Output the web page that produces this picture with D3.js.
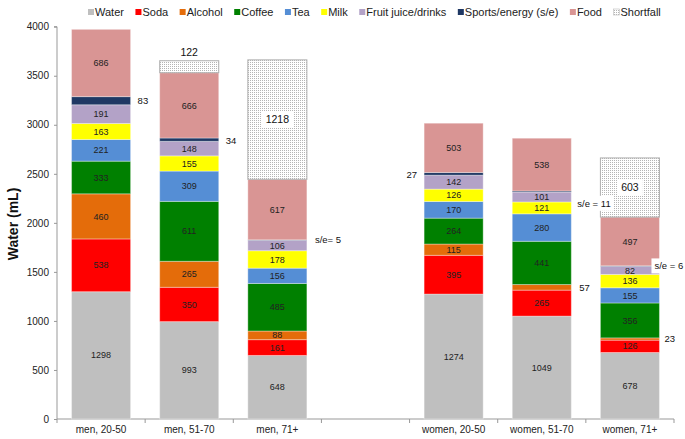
<!DOCTYPE html>
<html><head><meta charset="utf-8">
<script src="https://cdn.jsdelivr.net/npm/d3@7"></script>
<style>body{margin:0;background:#fff}svg{display:block;font-family:"Liberation Sans",Arial,sans-serif}</style>
</head><body><svg id="c" width="685" height="439"></svg>
<script>
const categories = ["men, 20-50","men, 51-70","men, 71+","","women, 20-50","women, 51-70","women, 71+"];
const seriesNames = ["Water","Soda","Alcohol","Coffee","Tea","Milk","Fruit juice/drinks","Sports/energy (s/e)","Food","Shortfall"];
const water      = [1298, 993, 648, null, 1274, 1049, 678];
const soda       = [538, 350, 161, null, 395, 265, 126];
const alcohol    = [460, 265, 88, null, 115, 57, 23];
const coffee     = [333, 611, 485, null, 264, 441, 356];
const tea        = [221, 309, 156, null, 170, 280, 155];
const milk       = [163, 155, 178, null, 126, 121, 136];
const fruitJuice = [191, 148, 106, null, 142, 101, 82];
const sports     = [83, 34, 5, null, 27, 11, 6];
const food       = [686, 666, 617, null, 503, 538, 497];
const shortfall  = [0, 122, 1218, null, 0, 0, 603];
const yTicks = [0,500,1000,1500,2000,2500,3000,3500,4000];

const seriesData = [water,soda,alcohol,coffee,tea,milk,fruitJuice,sports,food,shortfall];
const colors = ["#bfbfbf","#ff0000","#e46c0a","#008000","#558ed5","#ffff00","#b3a2c7","#1f3864","#d99594","url(#dots)"];

const svg = d3.select("#c");
const defs = svg.append("defs");
const pat = defs.append("pattern").attr("id","dots").attr("width",2).attr("height",2).attr("patternUnits","userSpaceOnUse");
pat.append("rect").attr("width",2).attr("height",2).attr("fill","#fff");
pat.append("rect").attr("width",1).attr("height",1).attr("fill","#b5b5b5");

const x = d3.scaleBand().domain(categories).range([57,674]).padding(0);
const y = d3.scaleLinear().domain([0,4000]).range([419,26.7]);
const bw = x.bandwidth()*0.67;

const rows = categories.map((c,i)=>{const o={cat:c}; seriesNames.forEach((s,j)=>o[s]=seriesData[j][i]||0); return o;});
const stack = d3.stack().keys(seriesNames)(rows);

// axes
const yAxis = svg.append("g").attr("transform","translate(57,0)")
  .call(d3.axisLeft(y).tickValues(yTicks).tickFormat(d3.format("d")).tickSize(3).tickPadding(5));
yAxis.select(".domain").attr("stroke","#999").attr("d","M-3,26.7H0V419");
yAxis.selectAll(".tick line").attr("stroke","#999");
yAxis.selectAll(".tick text").attr("font-size",10).attr("fill","#222").attr("font-family","Liberation Sans, Arial");

const xAxis = svg.append("g").attr("transform","translate(0,419)")
  .call(d3.axisBottom(x).tickSize(0).tickPadding(7));
xAxis.select(".domain").attr("stroke","#999").attr("d","M57,0H674");
xAxis.selectAll(".tick text").attr("font-size",10).attr("fill","#222").attr("font-family","Liberation Sans, Arial");
const bounds = categories.map(c=>x(c)).concat([x(categories[categories.length-1])+x.bandwidth()]);
xAxis.selectAll("line.bt").data(bounds).join("line").attr("class","bt")
  .attr("x1",d=>d).attr("x2",d=>d).attr("y1",0).attr("y2",4).attr("stroke","#999");

// bars
stack.forEach((layer,j)=>{
  svg.append("g").selectAll("rect").data(layer.filter(d=>d.data.cat!=="" && d[1]>d[0])).join("rect")
    .attr("x",d=>x(d.data.cat)+(x.bandwidth()-bw)/2)
    .attr("width",bw)
    .attr("y",d=>y(d[1]))
    .attr("height",d=>y(d[0])-y(d[1]))
    .attr("fill",colors[j])
    .attr("stroke", j===9 ? "#b0b0b0" : "rgba(255,255,255,0.35)")
    .attr("stroke-width", 1);
});

// inside labels
stack.forEach((layer,j)=>{
  layer.forEach(d=>{
    const v = d[1]-d[0];
    if(d.data.cat==="" || j===7 || v<60) return;
    if(j===9 && v<300) return;
    const cx = x(d.data.cat)+x.bandwidth()/2, cy = y((d[0]+d[1])/2);
    if(j===9){
      const t = svg.append("text").attr("x",cx).attr("y",cy).attr("dy","0.35em").attr("text-anchor","middle")
        .attr("font-size",10.5).attr("fill","#111").text(v);
      const bb=t.node().getBBox();
      svg.insert("rect",function(){return t.node();}).attr("x",bb.x-4).attr("y",bb.y-2).attr("width",bb.width+8).attr("height",bb.height+4).attr("fill","#fff");
    } else {
      svg.append("text").attr("x",cx).attr("y",cy).attr("dy","0.35em").attr("text-anchor","middle")
        .attr("font-size",9).attr("fill","#222").text(v);
    }
  });
});

// outside annotations (placement in code)
function barL(ci){return x(categories[ci])+(x.bandwidth()-bw)/2;}
function barR(ci){return barL(ci)+bw;}
const ann = [
  {ci:0,sj:7,side:"r",prefix:"",dx:7,dy:0,bg:false},
  {ci:1,sj:7,side:"r",prefix:"",dx:7,dy:1,bg:false},
  {ci:2,sj:7,side:"r",prefix:"s/e= ",dx:8,dy:0,bg:false},
  {ci:4,sj:7,side:"l",prefix:"",dx:-7,dy:1,bg:false},
  {ci:5,sj:7,side:"r",prefix:"s/e = ",dx:6,dy:12,bg:true},
  {ci:5,sj:2,side:"r",prefix:"",dx:8,dy:0,bg:false},
  {ci:6,sj:7,side:"r",prefix:"s/e = ",dx:-5,dy:0,bg:true},
  {ci:6,sj:2,side:"r",prefix:"",dx:5,dy:0,bg:false}
];
ann.forEach(a=>{
  const d=stack[a.sj][a.ci]; const v=d[1]-d[0];
  const xx = a.side==="r" ? barR(a.ci)+a.dx : barL(a.ci)+a.dx;
  const t = svg.append("text").attr("x",xx).attr("y",y((d[0]+d[1])/2)+a.dy).attr("dy","0.35em")
    .attr("text-anchor",a.side==="r"?"start":"end").attr("font-size",9.5).attr("fill","#111").text(a.prefix+v);
  if(a.bg){const bb=t.node().getBBox();
    svg.insert("rect",function(){return t.node();}).attr("x",bb.x-3).attr("y",bb.y-2).attr("width",bb.width+6).attr("height",bb.height+4).attr("fill","#fff");}
});
// shortfall 122 above bar
{const d=stack[9][1]; svg.append("text").attr("x",x(categories[1])+x.bandwidth()/2).attr("y",y(d[1])-5)
  .attr("text-anchor","middle").attr("font-size",10.5).attr("fill","#111").text(d[1]-d[0]);}

// y title
svg.append("text").attr("transform","translate(18,224) rotate(-90)").attr("text-anchor","middle")
  .attr("font-size",14).attr("font-weight","bold").attr("fill","#111").text("Water (mL)");

// legend
let lx = 88;
const lg = svg.append("g");
seriesNames.forEach((s,j)=>{
  lg.append("rect").attr("x",lx).attr("y",9).attr("width",6).attr("height",6).attr("fill",colors[j])
    .attr("stroke", j===9?"#bbb":"none").attr("stroke-width",0.6);
  const t = lg.append("text").attr("x",lx+7).attr("y",16).attr("font-size",11).attr("fill","#222").text(s);
  lx += 7 + t.node().getComputedTextLength() + 11.5;
});
</script></body></html>
